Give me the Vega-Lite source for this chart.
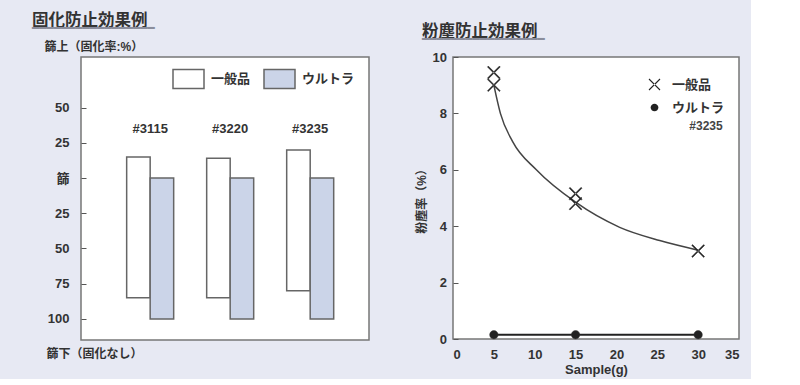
{
  "$schema": "https://vega.github.io/schema/vega-lite/v6.json",
  "background": "#E7E9F3",
  "padding": {"left": 31, "top": 11, "right": 10, "bottom": 2},
  "bounds": "flush",
  "spacing": 84,
  "resolve": {"scale": {"fill": "independent", "shape": "independent", "size": "independent"}, "legend": {"fill": "independent", "shape": "independent"}},
  "config": {
    "font": "Liberation Sans, Noto Sans CJK JP",
    "view": {"stroke": "#777", "strokeWidth": 1.5, "fill": "white"},
    "axis": {"labelFontSize": 13, "labelFontWeight": "bold", "labelColor": "#333", "titleColor": "#333", "titleFontWeight": "bold", "domain": false, "grid": false, "tickColor": "#555", "tickSize": -5},
    "legend": {"labelFontSize": 13, "labelFontWeight": "bold", "labelColor": "#333", "padding": 0, "title": null},
    "title": {"anchor": "start", "fontSize": 16.5, "fontWeight": "bold", "color": "#333", "subtitleColor": "#8A8D9C", "subtitleFont": "DejaVu Sans", "subtitleFontSize": 12, "subtitlePadding": -6.5, "frame": "group"}
  },
  "datasets": {
    "bars": [
      {"group": "#3115", "type": "一般品", "top": 15, "bottom": -85},
      {"group": "#3115", "type": "ウルトラ", "top": 0, "bottom": -100},
      {"group": "#3220", "type": "一般品", "top": 14, "bottom": -85},
      {"group": "#3220", "type": "ウルトラ", "top": 0, "bottom": -100},
      {"group": "#3235", "type": "一般品", "top": 20, "bottom": -80},
      {"group": "#3235", "type": "ウルトラ", "top": 0, "bottom": -100}
    ],
    "scatter": [
      {"x": 5, "y": 9.45, "type": "一般品"},
      {"x": 5, "y": 9.0, "type": "一般品"},
      {"x": 15, "y": 5.15, "type": "一般品"},
      {"x": 15, "y": 4.8, "type": "一般品"},
      {"x": 30, "y": 3.12, "type": "一般品"},
      {"x": 5, "y": 0.15, "type": "ウルトラ"},
      {"x": 15, "y": 0.15, "type": "ウルトラ"},
      {"x": 30, "y": 0.15, "type": "ウルトラ"}
    ],
    "curve": [
      {"x": 5, "y": 9.0},
      {"x": 5.8, "y": 8.0},
      {"x": 7.3, "y": 7.0},
      {"x": 10.2, "y": 6.0},
      {"x": 15, "y": 4.85},
      {"x": 20.4, "y": 3.96},
      {"x": 25.3, "y": 3.49},
      {"x": 30, "y": 3.15}
    ],
    "note": [{"label": "#3235", "x": 33, "y": 7.55}]
  },
  "hconcat": [
    {
      "width": 288,
      "height": 283,
      "title": {"text": "固化防止効果例", "subtitle": "━━━━━━━━━━━━━━━━━", "dx": -49, "offset": 6.5},
      "layer": [
        {
          "data": {"name": "bars"},
          "mark": {"type": "bar", "stroke": "#666", "strokeWidth": 1.5},
          "encoding": {
            "x": {"field": "group", "type": "nominal", "scale": {"paddingInner": 0.4125, "paddingOuter": 0.506, "align": 0.564},
              "axis": {"title": "篩下（固化なし）", "labels": false, "ticks": false, "titleAngle": 0, "titleAlign": "left", "titleBaseline": "middle", "titleX": -35, "titleY": 13, "titleFontSize": 12}},
            "xOffset": {"field": "type", "type": "nominal", "scale": {"domain": ["一般品", "ウルトラ"], "paddingInner": 0, "paddingOuter": 0}},
            "y": {"field": "top", "type": "quantitative", "scale": {"domain": [-115, 86], "nice": false, "zero": false},
              "axis": {"values": [50, 25, 0, -25, -50, -75, -100], "labelExpr": "datum.value == 0 ? '篩' : '' + abs(datum.value)", "title": "篩上（固化率:%）", "titleAngle": 0, "titleAlign": "left", "titleBaseline": "middle", "titleX": -37, "titleY": -11, "titleFontSize": 12, "labelPadding": 17}},
            "y2": {"field": "bottom"},
            "fill": {"field": "type", "type": "nominal", "scale": {"domain": ["一般品", "ウルトラ"], "range": ["white", "#CBD4E8"]},
              "legend": {"orient": "none", "legendX": 91, "legendY": 5, "direction": "horizontal", "symbolType": "M-1,-0.613L1,-0.613L1,0.613L-1,0.613Z", "symbolSize": 961, "symbolStrokeColor": "#666", "symbolStrokeWidth": 1.5, "labelOffset": 6, "columnPadding": 10}}
          }
        },
        {
          "data": {"name": "bars"},
          "transform": [{"filter": "datum.type === '一般品'"}],
          "mark": {"type": "text", "fontSize": 13, "fontWeight": "bold", "color": "#333", "baseline": "middle"},
          "encoding": {
            "x": {"field": "group", "type": "nominal"},
            "y": {"datum": 35},
            "text": {"field": "group"}
          }
        },
        {
          "mark": {"type": "rule", "color": "#555", "strokeWidth": 2.5, "strokeDash": [7, 4]},
          "encoding": {"y": {"datum": 0}}
        }
      ]
    },
    {
      "width": 286,
      "height": 282,
      "title": {"text": "粉塵防止効果例", "subtitle": "━━━━━━━━━━━━━━━━━", "dx": -31, "offset": 6.5},
      "layer": [
        {
          "data": {"name": "curve"},
          "mark": {"type": "line", "interpolate": "monotone", "color": "#444", "strokeWidth": 1.5},
          "encoding": {
            "x": {"field": "x", "type": "quantitative", "scale": {"domain": [0, 35], "nice": false},
              "axis": {"values": [0, 2.5, 5, 7.5, 10, 12.5, 15, 17.5, 20, 22.5, 25, 27.5, 30, 32.5, 35], "labelExpr": "datum.value % 5 == 0 ? datum.label : ''", "tickColor": {"condition": {"test": "datum.value % 5 == 0", "value": "transparent"}, "value": "#555"}, "title": "Sample(g)", "titleFontSize": 13, "titlePadding": 2, "labelPadding": 14}},
            "y": {"field": "y", "type": "quantitative", "scale": {"domain": [0, 10], "nice": false},
              "axis": {"values": [0, 1, 2, 3, 4, 5, 6, 7, 8, 9, 10], "labelExpr": "datum.value % 2 == 0 ? datum.label : ''", "title": "粉塵率（%）", "titleFontSize": 12, "titlePadding": 4, "labelPadding": 11.5}}
          }
        },
        {
          "data": {"name": "scatter"},
          "transform": [{"filter": "datum.type === 'ウルトラ'"}],
          "mark": {"type": "line", "color": "#222", "strokeWidth": 2},
          "encoding": {
            "x": {"field": "x", "type": "quantitative"},
            "y": {"field": "y", "type": "quantitative"}
          }
        },
        {
          "data": {"name": "scatter"},
          "mark": {"type": "point", "filled": true, "color": "#222", "stroke": "#333", "strokeWidth": 0.5, "opacity": 1, "size": 144},
          "encoding": {
            "x": {"field": "x", "type": "quantitative"},
            "y": {"field": "y", "type": "quantitative"},
            "shape": {"field": "type", "type": "nominal", "scale": {"domain": ["一般品", "ウルトラ"], "range": ["M-0.93,-1.07L1.07,0.93L0.93,1.07L-1.07,-0.93ZM-0.93,1.07L1.07,-0.93L0.93,-1.07L-1.07,0.93Z", "M0,-0.7A0.7,0.7,0,1,1,0,0.7A0.7,0.7,0,1,1,0,-0.7Z"]},
              "legend": {"orient": "none", "legendX": 195, "legendY": 21, "symbolSize": 121, "symbolFillColor": "#222", "symbolStrokeColor": "#333", "symbolStrokeWidth": 0.5, "labelOffset": 11, "rowPadding": 9}}
          }
        },
        {
          "data": {"name": "note"},
          "mark": {"type": "text", "align": "right", "baseline": "middle", "fontSize": 12, "fontWeight": "bold", "color": "#444"},
          "encoding": {"x": {"field": "x", "type": "quantitative"}, "y": {"field": "y", "type": "quantitative"}, "text": {"field": "label"}}
        }
      ]
    }
  ]
}
